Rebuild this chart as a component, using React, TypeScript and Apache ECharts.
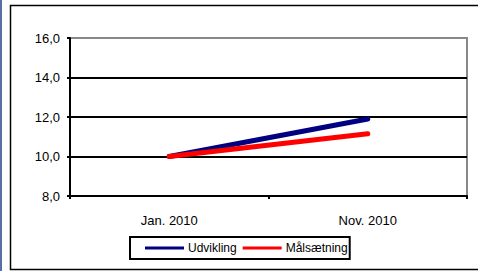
import React, { useEffect, useRef } from "react";
import * as echarts from "echarts";

const categories = ["Jan. 2010", "Nov. 2010"];
const udvikling = [10.0, 11.9];
const maalsaetning = [10.0, 11.15];
const yMin = 8;
const yMax = 16;
const yInterval = 2;

export default function App() {
  const ref = useRef<HTMLDivElement>(null);
  useEffect(() => {
    if (!ref.current) return;
    const chart = echarts.init(ref.current, null, { renderer: "svg" });
    const font = "'Liberation Sans', Arial, sans-serif";
    chart.setOption({
      animation: false,
      backgroundColor: "#ffffff",
      graphic: [
        { type: "rect", shape: { x: 0, y: 0, width: 2, height: 271 }, style: { fill: "#5b6ea3" } },
        {
          type: "rect",
          shape: { x: 10.5, y: 5.5, width: 480, height: 264 },
          style: { fill: "none", stroke: "#000", lineWidth: 1.5 },
        },
      ],
      grid: {
        left: 70,
        top: 38,
        width: 397,
        height: 158,
        show: true,
        borderColor: "#888",
        borderWidth: 2,
        backgroundColor: "transparent",
      },
      legend: {
        left: 130,
        top: 237,
        orient: "horizontal",
        data: ["Udvikling", "Målsætning"],
        icon: "rect",
        itemWidth: 39,
        itemHeight: 3,
        itemGap: 6,
        borderColor: "#000",
        borderWidth: 2,
        padding: [5, 2, 5, 15],
        textStyle: { fontFamily: font, fontSize: 12, color: "#000", padding: [0, 0, 0, -1] },
      },
      xAxis: {
        type: "category",
        data: categories,
        boundaryGap: true,
        axisLine: { lineStyle: { color: "#000", width: 2 } },
        axisTick: { show: true, length: 3, lineStyle: { color: "#000", width: 2 } },
        axisLabel: { margin: 18, fontFamily: font, fontSize: 13, color: "#000" },
      },
      yAxis: {
        type: "value",
        min: yMin,
        max: yMax,
        interval: yInterval,
        axisLine: { show: true, lineStyle: { color: "#000", width: 2 } },
        axisTick: { show: true, length: 3, lineStyle: { color: "#000", width: 2 } },
        axisLabel: {
          margin: 10,
          fontFamily: font,
          fontSize: 13,
          color: "#000",
          formatter: (v: number) => v.toFixed(1).replace(".", ","),
        },
        splitLine: {
          show: true,
          lineStyle: { color: ["#000", "#000", "#000", "#000", "#888"], width: 2 },
        },
      },
      series: [
        {
          name: "Udvikling",
          type: "line",
          data: udvikling,
          showSymbol: false,
          symbol: "none",
          lineStyle: { color: "#000080", width: 5, cap: "round" },
          itemStyle: { color: "#000080" },
        },
        {
          name: "Målsætning",
          type: "line",
          data: maalsaetning,
          showSymbol: false,
          symbol: "none",
          lineStyle: { color: "#ff0000", width: 5, cap: "round" },
          itemStyle: { color: "#ff0000" },
        },
      ],
    });
    return () => chart.dispose();
  }, []);
  return (
    <div
      ref={ref}
      style={{ position: "fixed", left: 0, top: 0, width: 478, height: 271 }}
    />
  );
}
